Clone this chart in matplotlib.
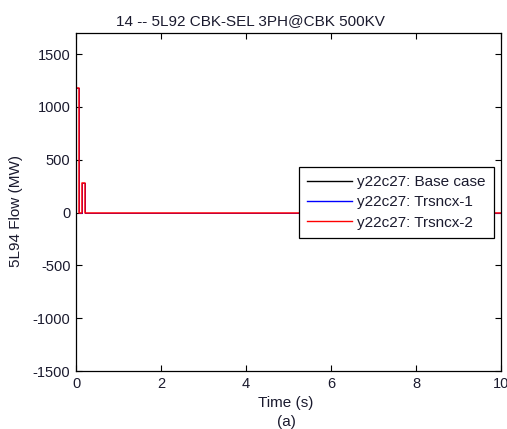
import matplotlib
matplotlib.use("Agg")
import matplotlib.pyplot as plt

# Switching sequence of the 5L94 flow (MW) at each time breakpoint (s)
time_s = [0.0, 0.08, 0.15, 0.20, 10.0]
base_case = [1180, 0, 285, 0, 0]
trsncx_1 = [1180, 0, 285, 0, 0]
trsncx_2 = [1180, 0, 285, 0, 0]

series_names = ["y22c27: Base case", "y22c27: Trsncx-1", "y22c27: Trsncx-2"]
series_colors = ["#000000", "#0000ff", "#ff0000"]

x_ticks = [0, 2, 4, 6, 8, 10]
y_ticks = [-1500, -1000, -500, 0, 500, 1000, 1500]

plt.rcParams["font.family"] = ["Liberation Sans", "DejaVu Sans"]
plt.rcParams["axes.unicode_minus"] = False
text_color = "#1a1a2e"
fs = 11

fig = plt.figure(figsize=(5.07, 4.29), dpi=100)
ax = fig.add_axes([0.150, 0.135, 0.838, 0.788])

# later series overlay the earlier ones; the last drawn is slightly wider
widths = [0.7, 0.7, 1.1]
for vals, name, col, lw in zip([base_case, trsncx_1, trsncx_2],
                               series_names, series_colors, widths):
    ax.plot(time_s, vals, drawstyle="steps-post", color=col, lw=lw, label=name)

ax.set_xlim(0, 10)
ax.set_ylim(-1500, 1700)
ax.set_xticks(x_ticks)
ax.set_yticks(y_ticks)
ax.tick_params(direction="in", length=4, width=0.8, top=True, right=True,
               labelsize=10.5, colors="black", labelcolor=text_color)
ax.tick_params(axis="x", pad=4)
ax.tick_params(axis="y", pad=4)
for sp in ax.spines.values():
    sp.set_linewidth(0.9)

fig.text(16.5 / 507, 1 - 211 / 429, "5L94 Flow (MW)", rotation=90,
         ha="center", va="center", fontsize=fs, color=text_color)
fig.text(286 / 507, 1 - 403 / 429, "Time (s)", ha="center", va="center",
         fontsize=fs, color=text_color)
fig.text(286 / 507, 1 - 422 / 429, "(a)", ha="center", va="center",
         fontsize=fs, color=text_color)
fig.text(250.5 / 507, 1 - 21 / 429, "14 -- 5L92 CBK-SEL 3PH@CBK 500KV",
         ha="center", va="center", fontsize=fs, color=text_color)

leg = ax.legend(loc="upper right", bbox_to_anchor=(0.983, 0.605), fontsize=fs,
                frameon=True, fancybox=False, framealpha=1, edgecolor="black",
                handlelength=2.95, borderpad=0.55, labelspacing=0.42,
                handletextpad=0.3, borderaxespad=0)
leg.get_frame().set_linewidth(0.9)
for t in leg.get_texts():
    t.set_color(text_color)
for ln in leg.get_lines():
    ln.set_linewidth(1.0)

fig.savefig("out.png", dpi=100)
